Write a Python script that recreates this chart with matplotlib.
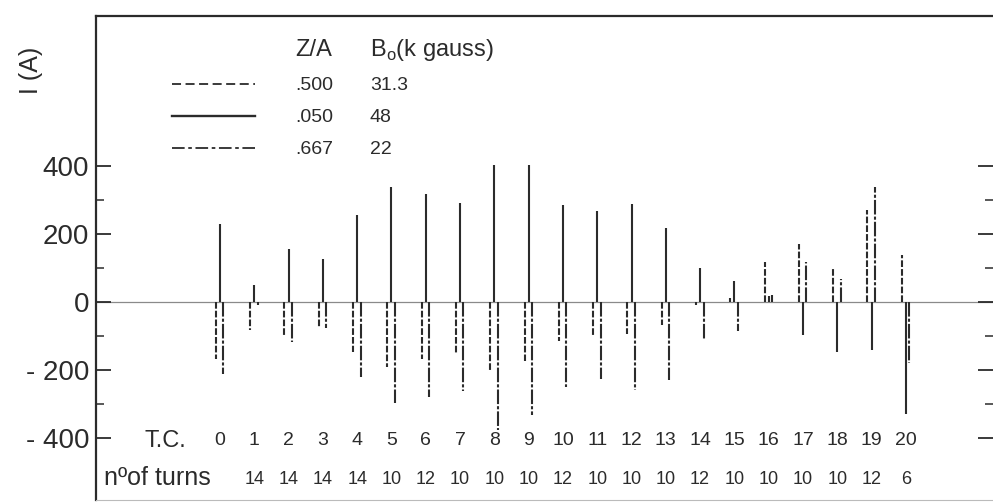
import numpy as np
import matplotlib
matplotlib.use("Agg")
import matplotlib.pyplot as plt
from matplotlib.lines import Line2D
import matplotlib.transforms as mtransforms

plt.rcParams['font.family'] = ['Liberation Sans', 'DejaVu Sans']
plt.rcParams['mathtext.fontset'] = 'custom'
plt.rcParams['mathtext.rm'] = 'Liberation Sans'

# trim coil number and number of turns (TC 0 has no entry)
tc = np.arange(21)
turns = [None, 14, 14, 14, 14, 10, 12, 10, 10, 10, 12, 10, 10, 10, 12, 10, 10, 10, 10, 12, 6]

# currents I (A) for the three settings
i_500 = [-167, -82, -100, -76, -147, -191, -168, -153, -203, -173, -114,
         -103, -94, -68, -9, 12, 117, 170, 100, 272, 137]       # Z/A .500, dashed
i_050 = [229, 50, 156, 126, 256, 338, 317, 292, 404, 404, 284,
         267, 287, 217, 100, 62, 18, -97, -146, -140, -328]     # Z/A .050, solid
i_667 = [-211, -9, -117, -76, -220, -297, -279, -262, -375, -331, -249,
         -226, -258, -229, -108, -85, 20, 117, 67, 337, -180]   # Z/A .667, dash-dot

legend_za = ['.500', '.050', '.667']
legend_b0 = ['31.3', '48', '22']

ink = '#2b2b2b'
W, H = 993, 504
fig = plt.figure(figsize=(W / 100, H / 100), dpi=100)
ax = fig.add_axes([96 / W, 4 / H, 1 - 96 / W, 484 / H])

ax.set_xlim(-3.615, 22.54)
ax.set_ylim(-582, 841)

dash = (3.2, 1.0)
dashdot = (7.0, 1.0, 1.5, 1.0)
lw = 1.5
ax.vlines(tc - 0.12, 0, i_500, colors=ink, lw=lw, linestyles=[(0, dash)])
ax.vlines(tc, 0, i_050, colors=ink, lw=lw)
ax.vlines(tc + 0.1, 0, i_667, colors=ink, lw=lw, linestyles=[(0, dashdot)])
ax.axhline(0, color='#8a8a8a', lw=0.9, zorder=0)

# axes frame
ax.spines['right'].set_visible(False)
ax.spines['left'].set_color(ink)
ax.spines['left'].set_linewidth(1.6)
ax.spines['top'].set_color(ink)
ax.spines['top'].set_linewidth(1.6)
ax.spines['bottom'].set_color('#bbbbbb')
ax.spines['bottom'].set_linewidth(0.8)

ax.set_xticks([])
ax.set_yticks([-400, -200, 0, 200, 400])
ax.set_yticklabels(['- 400', '- 200', '0', '200', '400'])
ax.set_yticks([-300, -100, 100, 300], minor=True)
ax.tick_params(axis='y', which='major', direction='in', length=11, width=1.3,
               color=ink, labelsize=20, labelcolor=ink, pad=5, right=True)
ax.tick_params(axis='y', which='minor', direction='in', length=6, width=1.1,
               color=ink, right=True)

fig.text(31 / W, 1 - 70 / H, 'I (A)', rotation=90, fontsize=18, color=ink,
         ha='center', va='center')

# T.C. and number of turns rows
trans = mtransforms.blended_transform_factory(ax.transData, ax.transAxes)
ax.text(-1.6, 0.122, 'T.C.', transform=trans, fontsize=17, color=ink,
        ha='center', va='center')
ax.text(-1.83, 0.045, 'nºof turns', transform=trans, fontsize=18, color=ink,
        ha='center', va='center')
for i, n in zip(tc, turns):
    ax.text(i, 0.122, str(i), transform=trans, fontsize=14, color=ink,
            ha='center', va='center')
    if n is not None:
        ax.text(i, 0.043, str(n), transform=trans, fontsize=13, color=ink,
                ha='center', va='center')

# legend drawn as a small table
styles = [dict(ls=(0, (5, 2.5)), lw=1.3), dict(ls='-', lw=1.7), dict(ls=(0, (7, 2, 2, 2)), lw=1.3)]
rows_y = [84, 116, 148]
fig.text(295 / W, 1 - 50 / H, 'Z/A', fontsize=17, color=ink, va='center')
fig.text(370 / W, 1 - 50 / H, r'B$_\mathrm{o}$(k gauss)', fontsize=17, color=ink, va='center')
for st, y, za, b0 in zip(styles, rows_y, legend_za, legend_b0):
    fig.add_artist(Line2D([172 / W, 255 / W], [1 - y / H, 1 - y / H], color=ink, **st))
    fig.text(295 / W, 1 - (y + 1) / H, za, fontsize=14, color=ink, va='center')
    fig.text(370 / W, 1 - (y + 1) / H, b0, fontsize=14, color=ink, va='center')

fig.savefig('out.png', dpi=100, facecolor='white')
